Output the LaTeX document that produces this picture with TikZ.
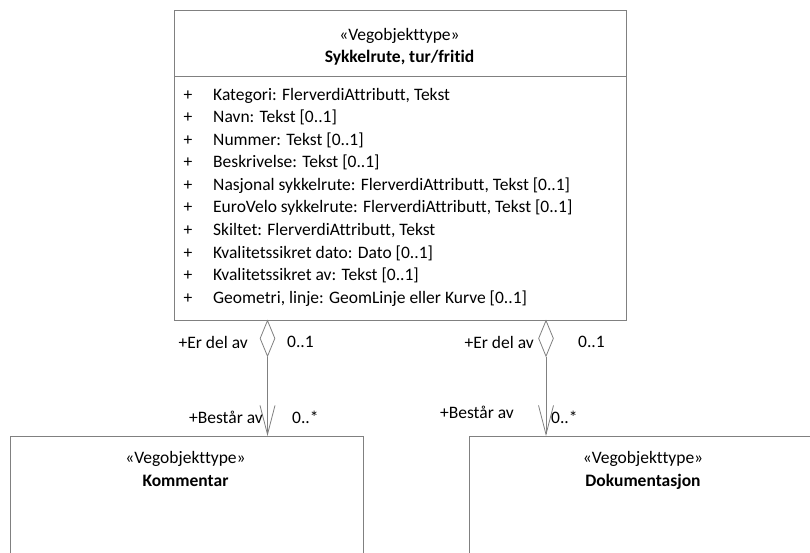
\documentclass[tikz,border=0pt]{standalone}
\usepackage{fontspec}
\setmainfont{Carlito}[Ligatures=NoCommon]
\usetikzlibrary{shapes.geometric,arrows.meta}
\definecolor{linegray}{RGB}{128,128,128}
\begin{document}
\begin{tikzpicture}[x=1pt,y=-1pt,
  umlbox/.style={draw=linegray, line width=0.8pt, inner sep=0pt, anchor=north west},
  lbl/.style={font=\fontsize{17.5}{20}\selectfont, inner sep=0pt},
  conn/.style={draw=linegray, line width=0.8pt},
  agg/.style={shape=diamond, draw=linegray, line width=0.8pt, minimum width=15pt, minimum height=36pt, inner sep=0pt, anchor=north, fill=white},
  openarrow/.style={-{Straight Barb[length=29pt,width=15pt,line width=0.8pt]}}
  ]
\useasboundingbox (0,0) rectangle (810,553);
\clip (0,0) rectangle (810,553);
% main class
\node[umlbox, minimum width=451.5pt, minimum height=310pt] (main) at (174,10) {};
\draw[conn] (174,76) coordinate (sepl) -- (625.5,76) coordinate (sepr);
\node[lbl, anchor=base] (st1) at (399.5,40.5) {«Vegobjekttype»};
\node[lbl, anchor=base, font=\fontsize{17.5}{20}\selectfont\bfseries] (t1) at (399.5,62.5) {Sykkelrute, tur/fritid};
\foreach \i/\txt in {0/{Kategori: FlerverdiAttributt, Tekst},
  1/{Navn: Tekst [0..1]},
  2/{Nummer: Tekst [0..1]},
  3/{Beskrivelse: Tekst [0..1]},
  4/{Nasjonal sykkelrute: FlerverdiAttributt, Tekst [0..1]},
  5/{EuroVelo sykkelrute: FlerverdiAttributt, Tekst [0..1]},
  6/{Skiltet: FlerverdiAttributt, Tekst},
  7/{Kvalitetssikret dato: Dato [0..1]},
  8/{Kvalitetssikret av: Tekst [0..1]},
  9/{Geometri, linje: GeomLinje eller Kurve [0..1]}}{
  \node[lbl, anchor=base] (p\i) at (188,100.5+22.5*\i) {+};
  \node[lbl, anchor=base west] (a\i) at (213,100.5+22.5*\i) {\txt};
}
% bottom classes
\node[umlbox, minimum width=353pt, minimum height=160pt] (komm) at (9.5,436) {};
\node[lbl, anchor=base] (st2) at (185.5,463.5) {«Vegobjekttype»};
\node[lbl, anchor=base, font=\fontsize{17.5}{20}\selectfont\bfseries] (t2) at (185.5,486.5) {Kommentar};
\node[umlbox, minimum width=353pt, minimum height=160pt] (dok) at (469,436) {};
\node[lbl, anchor=base] (st3) at (643,463.5) {«Vegobjekttype»};
\node[lbl, anchor=base, font=\fontsize{17.5}{20}\selectfont\bfseries] (t3) at (643,486.5) {Dokumentasjon};
% associations
\node[agg] (d1) at (267.5,320) {};
\node[agg] (d2) at (546,320) {};
\draw[conn, openarrow] (d1.south) -- (d1.south |- komm.north);
\draw[conn, openarrow] (d2.south) -- (d2.south |- dok.north);
% labels
\node[lbl, anchor=east] (r1) at (248,342) {+Er del av};
\node[lbl, anchor=west] (m1) at (287,342) {0..1};
\node[lbl, anchor=east] (r2) at (534,342) {+Er del av};
\node[lbl, anchor=west] (m2) at (578,342) {0..1};
\node[lbl, anchor=east] (r3) at (263,417) {+Består av};
\node[lbl, anchor=west] (m3) at (292,417) {0..*};
\node[lbl, anchor=east] (r4) at (514,412) {+Består av};
\node[lbl, anchor=west] (m4) at (551,417) {0..*};
\end{tikzpicture}
\end{document}
